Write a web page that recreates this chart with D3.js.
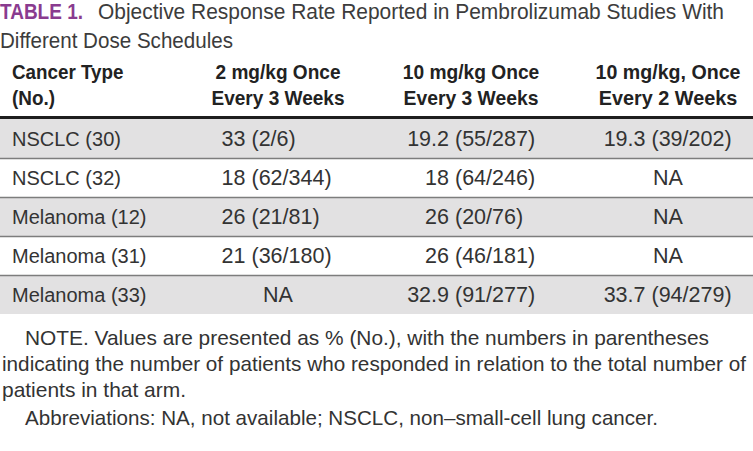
<!DOCTYPE html>
<html>
<head>
<meta charset="utf-8">
<script src="https://cdn.jsdelivr.net/npm/d3@7"></script>
<style>
  html, body { margin: 0; padding: 0; background: #ffffff; }
  svg { display: block; }
</style>
</head>
<body>
<div id="chart"></div>
<script>
// ---------------- DATA ----------------
const tableLabel = "TABLE 1.";
const titleLines = [
  "Objective Response Rate Reported in Pembrolizumab Studies With",
  "Different Dose Schedules"
];
const headerLines = [
  ["Cancer Type", "(No.)"],
  ["2 mg/kg Once", "Every 3 Weeks"],
  ["10 mg/kg Once", "Every 3 Weeks"],
  ["10 mg/kg, Once", "Every 2 Weeks"]
];
const cancerTypes = ["NSCLC (30)", "NSCLC (32)", "Melanoma (12)", "Melanoma (31)", "Melanoma (33)"];
const dose2mgQ3W  = ["33 (2/6)", "18 (62/344)", "26 (21/81)", "21 (36/180)", "NA"];
const dose10mgQ3W = ["19.2 (55/287)", "18 (64/246)", "26 (20/76)", "26 (46/181)", "32.9 (91/277)"];
const dose10mgQ2W = ["19.3 (39/202)", "NA", "NA", "NA", "33.7 (94/279)"];
const noteLines = [
  "NOTE. Values are presented as % (No.), with the numbers in parentheses",
  "indicating the number of patients who responded in relation to the total number of",
  "patients in that arm.",
  "Abbreviations: NA, not available; NSCLC, non\u2013small-cell lung cancer."
];

// ---------------- LAYOUT / STYLE ----------------
const W = 753, H = 451;
const FONT = "'Liberation Sans', Arial, sans-serif";
const NARROW = "'Liberation Sans Narrow', 'Liberation Sans', Arial, sans-serif";
const purple = "#8a3b8f";

const svg = d3.select("#chart").append("svg")
  .attr("width", W).attr("height", H)
  .attr("viewBox", `0 0 ${W} ${H}`);

// Title
const titleG = svg.append("g");
titleG.append("text")
  .attr("x", 0).attr("y", 19)
  .attr("font-family", NARROW).attr("font-weight", "bold")
  .attr("font-size", 22).attr("fill", purple)
  .attr("textLength", 83).attr("lengthAdjust", "spacingAndGlyphs")
  .text(tableLabel);
const titleSpecs = [{x: 98, y: 19, w: 626}, {x: 0, y: 48, w: 233}];
titleG.selectAll("text.t").data(titleLines).join("text")
  .attr("class", "t")
  .attr("x", (d, i) => titleSpecs[i].x)
  .attr("y", (d, i) => titleSpecs[i].y)
  .attr("font-family", FONT).attr("font-size", 21.5)
  .attr("fill", "#3c3c3c")
  .attr("textLength", (d, i) => titleSpecs[i].w)
  .attr("lengthAdjust", "spacingAndGlyphs")
  .text(d => d);

// Columns
const colCenters = [null, 278, 471, 668];
const parenX = [null, 251.5, 455, 651.5];
const firstColX = 12;
const headerWidths = [[111.5, 43], [125, 133], [136.5, 135], [145, 138.5]];
const headerBaselines = [79, 105];

const headG = svg.append("g");
headerLines.forEach((lines, c) => {
  lines.forEach((line, k) => {
    headG.append("text")
      .attr("x", c === 0 ? firstColX : colCenters[c])
      .attr("y", headerBaselines[k])
      .attr("text-anchor", c === 0 ? "start" : "middle")
      .attr("font-family", NARROW).attr("font-weight", "bold")
      .attr("font-size", 21).attr("fill", "#222")
      .attr("textLength", headerWidths[c][k])
      .attr("lengthAdjust", "spacingAndGlyphs")
      .text(line);
  });
});

// Rows via band scale
const y = d3.scaleBand().domain(cancerTypes).range([119, 314]).paddingInner(0).paddingOuter(0);

const rowsG = svg.append("g");
rowsG.selectAll("rect.row").data(cancerTypes).join("rect")
  .attr("class", "row")
  .attr("x", 0).attr("width", W)
  .attr("y", d => y(d)).attr("height", y.bandwidth())
  .attr("fill", (d, i) => i % 2 === 0 ? "#e2e1e2" : "#ffffff");

rowsG.selectAll("line.sep").data(cancerTypes.slice(1)).join("line")
  .attr("class", "sep")
  .attr("x1", 0).attr("x2", W)
  .attr("y1", d => Math.round(y(d)) + 0.5).attr("y2", d => Math.round(y(d)) + 0.5)
  .attr("stroke", "#7d7d7d").attr("stroke-width", 1.5);

svg.append("rect").attr("x", 0).attr("width", W)
  .attr("y", 116).attr("height", 3).attr("fill", "#1e1e1e");

// Cells
const valueCols = [dose2mgQ3W, dose10mgQ3W, dose10mgQ2W];
const baseOff = y.bandwidth() / 2 + 7;

rowsG.selectAll("text.cat").data(cancerTypes).join("text")
  .attr("class", "cat")
  .attr("x", firstColX).attr("y", d => y(d) + baseOff)
  .attr("font-family", FONT).attr("font-size", 20).attr("fill", "#333")
  .text(d => d);

valueCols.forEach((col, ci) => {
  const c = ci + 1;
  col.forEach((val, r) => {
    const yy = y(cancerTypes[r]) + baseOff;
    if (val === "NA") {
      rowsG.append("text")
        .attr("x", colCenters[c]).attr("y", yy)
        .attr("text-anchor", "middle")
        .attr("font-family", FONT).attr("font-size", 21.5).attr("fill", "#333")
        .text(val);
    } else {
      const idx = val.indexOf(" (");
      const num = val.slice(0, idx);
      const par = val.slice(idx + 1);
      rowsG.append("text")
        .attr("x", parenX[c] - 6).attr("y", yy)
        .attr("text-anchor", "end")
        .attr("font-family", FONT).attr("font-size", 21.5).attr("fill", "#333")
        .text(num);
      rowsG.append("text")
        .attr("x", parenX[c]).attr("y", yy)
        .attr("text-anchor", "start")
        .attr("font-family", FONT).attr("font-size", 21.5).attr("fill", "#333")
        .text(par);
    }
  });
});

// Notes
const noteSpecs = [
  {x: 25, y: 345, w: 684},
  {x: 2, y: 371, w: 744},
  {x: 2, y: 397, w: 184},
  {x: 25, y: 425, w: 633}
];
svg.append("g").selectAll("text").data(noteLines).join("text")
  .attr("x", (d, i) => noteSpecs[i].x)
  .attr("y", (d, i) => noteSpecs[i].y)
  .attr("font-family", FONT).attr("font-size", 21)
  .attr("fill", "#333")
  .attr("textLength", (d, i) => noteSpecs[i].w)
  .attr("lengthAdjust", "spacingAndGlyphs")
  .text(d => d);
</script>
</body>
</html>
